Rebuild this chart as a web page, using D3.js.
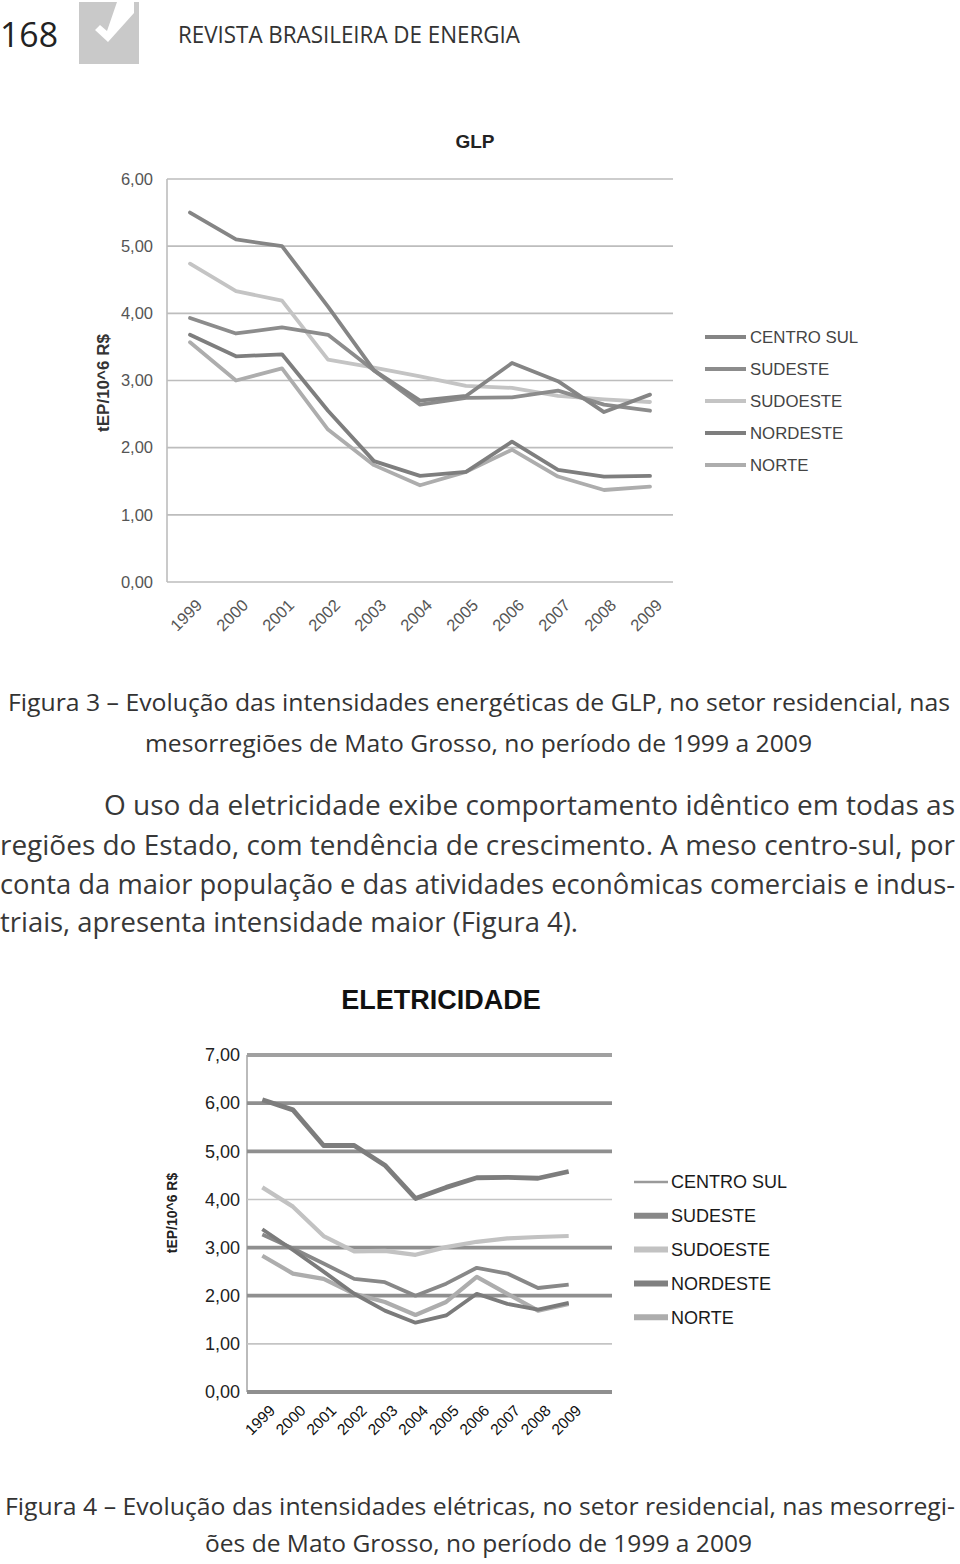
<!DOCTYPE html>
<html><head><meta charset="utf-8">
<script src="https://cdn.jsdelivr.net/npm/d3@7/dist/d3.min.js"></script>
<style>
html,body{margin:0;padding:0;background:#fff;}
svg{display:block;}
</style></head>
<body>
<script>
// ---------- DATA ----------
const years = ["1999","2000","2001","2002","2003","2004","2005","2006","2007","2008","2009"];
const regions = ["CENTRO SUL","SUDESTE","SUDOESTE","NORDESTE","NORTE"];

// GLP (tEP/10^6 R$)
const glpCentroSul = [5.50,5.10,5.00,4.10,3.15,2.70,2.77,3.26,2.99,2.53,2.79];
const glpSudeste   = [3.93,3.70,3.79,3.68,3.15,2.64,2.74,2.75,2.85,2.64,2.55];
const glpSudoeste  = [4.74,4.33,4.19,3.31,3.19,3.06,2.92,2.89,2.77,2.72,2.68];
const glpNordeste  = [3.68,3.36,3.39,2.55,1.80,1.58,1.64,2.09,1.67,1.57,1.58];
const glpNorte     = [3.57,3.00,3.18,2.27,1.74,1.44,1.64,1.97,1.57,1.37,1.42];
const glpTicks = [0,1,2,3,4,5,6];

// ELETRICIDADE (tEP/10^6 R$)
const eleCentroSul = [6.07,5.86,5.12,5.12,4.71,4.02,4.25,4.45,4.46,4.44,4.58];
const eleSudeste   = [3.27,2.98,2.67,2.35,2.28,2.00,2.25,2.58,2.46,2.16,2.23];
const eleSudoeste  = [4.25,3.85,3.24,2.92,2.93,2.85,3.01,3.12,3.19,3.22,3.24];
const eleNordeste  = [3.38,2.95,2.50,2.04,1.69,1.44,1.59,2.04,1.83,1.71,1.85];
const eleNorte     = [2.83,2.46,2.35,2.04,1.87,1.60,1.87,2.39,2.04,1.69,1.83];
const eleTicks = [0,1,2,3,4,5,6,7];

const yLabel = "tEP/10^6 R$";

// ---------- DRAW ----------
const W = 960, H = 1564;
const svg = d3.select("body").append("svg").attr("width", W).attr("height", H);
svg.append("rect").attr("width", W).attr("height", H).attr("fill", "#fff");

const bodyFont = "'Open Sans','Noto Sans',sans-serif";
const chartFont = "'Liberation Sans',Arial,sans-serif";
const fmt = v => d3.format(".2f")(v).replace(".", ",");

function fitText(x, y, str, size, len, color, anchor) {
  const t = svg.append("text").attr("x", x).attr("y", y)
    .attr("font-family", bodyFont).attr("font-size", size)
    .attr("fill", color || "#3a3a3a").text(str);
  if (anchor) t.attr("text-anchor", anchor);
  if (len) t.attr("textLength", len).attr("lengthAdjust", "spacingAndGlyphs");
  return t;
}

// Header
fitText(0, 47, "168", 34, 58, "#222");
svg.append("rect").attr("x", 79).attr("y", 2).attr("width", 60).attr("height", 62).attr("fill", "#c9c9c9");
svg.append("polygon").attr("points", "117,2 134,2 134,13 108,42 95,30 100,25 107,31").attr("fill", "#fff");
fitText(178, 43, "REVISTA BRASILEIRA DE ENERGIA", 23.5, 342, "#333");

// ---------- GLP chart ----------
{
  const x = d3.scaleBand().domain(years).range([167, 673]);
  const y = d3.scaleLinear().domain([0, 6]).range([582, 179]);
  const cx = d => x(d) + x.bandwidth() / 2;
  const g = svg.append("g");

  g.append("text").attr("x", 475).attr("y", 148).attr("text-anchor", "middle")
    .attr("font-family", chartFont).attr("font-weight", "bold").attr("font-size", 19)
    .attr("fill", "#222").text("GLP");

  g.selectAll(".grid").data(glpTicks).join("line")
    .attr("x1", 167).attr("x2", 673)
    .attr("y1", d => y(d)).attr("y2", d => y(d))
    .attr("stroke", "#bdbdbd").attr("stroke-width", 1.6);
  g.append("line").attr("x1", 167).attr("x2", 167).attr("y1", y(6)).attr("y2", y(0))
    .attr("stroke", "#bdbdbd").attr("stroke-width", 1.6);

  const yAxis = d3.axisLeft(y).tickValues(glpTicks).tickFormat(fmt).tickSize(0).tickPadding(14);
  const ya = g.append("g").attr("transform", "translate(167,0)").call(yAxis);
  ya.select(".domain").remove();
  ya.selectAll("text").attr("font-family", chartFont).attr("font-size", 16.5).attr("fill", "#555");

  g.selectAll(".xl").data(years).join("text")
    .attr("transform", d => `translate(${cx(d) + 5},${598}) rotate(-45)`)
    .attr("text-anchor", "end").attr("dy", "0.7em")
    .attr("font-family", chartFont).attr("font-size", 16.5).attr("fill", "#555").text(d => d);

  g.append("text").attr("transform", "translate(109,383) rotate(-90)")
    .attr("text-anchor", "middle").attr("font-family", chartFont).attr("font-weight", "bold")
    .attr("font-size", 17).attr("fill", "#333").text(yLabel);

  const series = [
    {name: regions[0], v: glpCentroSul, c: "#858585"},
    {name: regions[1], v: glpSudeste, c: "#8c8c8c"},
    {name: regions[2], v: glpSudoeste, c: "#c4c4c4"},
    {name: regions[3], v: glpNordeste, c: "#7e7e7e"},
    {name: regions[4], v: glpNorte, c: "#adadad"}
  ];
  const line = d3.line().x((d, i) => cx(years[i])).y(d => y(d));
  const drawOrder = [2, 4, 1, 3, 0];
  drawOrder.forEach(k => {
    g.append("path").attr("d", line(series[k].v)).attr("fill", "none")
      .attr("stroke", series[k].c).attr("stroke-width", 3.8)
      .attr("stroke-linejoin", "round").attr("stroke-linecap", "round");
  });

  const leg = g.append("g");
  series.forEach((s, i) => {
    const ly = 337 + i * 32;
    leg.append("line").attr("x1", 705).attr("x2", 746).attr("y1", ly).attr("y2", ly)
      .attr("stroke", s.c).attr("stroke-width", 3.8);
    leg.append("text").attr("x", 750).attr("y", ly).attr("dy", "0.36em")
      .attr("font-family", chartFont).attr("font-size", 16.8).attr("fill", "#444").text(s.name);
  });
}

// Caption Figura 3
fitText(8, 711, "Figura 3 – Evolução das intensidades energéticas de GLP, no setor residencial, nas", 24, 942, "#333");
fitText(145, 752, "mesorregiões de Mato Grosso, no período de 1999 a 2009", 24, 667, "#333");

// Paragraph
fitText(104, 815, "O uso da eletricidade exibe comportamento idêntico em todas as", 27, 851, "#383838");
fitText(0, 855, "regiões do Estado, com tendência de crescimento. A meso centro-sul, por", 27, 955, "#383838");
fitText(0, 894, "conta da maior população e das atividades econômicas comerciais e indus-", 27, 955, "#383838");
fitText(0, 932, "triais, apresenta intensidade maior (Figura 4).", 27, 578, "#383838");

// ---------- ELETRICIDADE chart ----------
{
  const x = d3.scaleBand().domain(years).range([247, 584]);
  const y = d3.scaleLinear().domain([0, 7]).range([1392, 1055]);
  const cx = d => x(d) + x.bandwidth() / 2;
  const g = svg.append("g");

  g.append("text").attr("x", 441).attr("y", 1009).attr("text-anchor", "middle")
    .attr("font-family", chartFont).attr("font-weight", "bold").attr("font-size", 27)
    .attr("fill", "#111").text("ELETRICIDADE");

  const heavy = new Set([0, 2, 3, 5, 6, 7]);
  g.append("line").attr("x1", 247).attr("x2", 247).attr("y1", y(7)).attr("y2", y(0))
    .attr("stroke", "#bbbbbb").attr("stroke-width", 2);
  g.selectAll(".grid").data(eleTicks).join("line")
    .attr("x1", 247).attr("x2", 612)
    .attr("y1", d => y(d)).attr("y2", d => y(d))
    .attr("stroke", d => heavy.has(d) ? (d === 7 ? "#a0a0a0" : "#8f8f8f") : "#c4c4c4")
    .attr("stroke-width", d => heavy.has(d) ? 3.8 : 1.6);

  const yAxis = d3.axisLeft(y).tickValues(eleTicks).tickFormat(fmt).tickSize(0).tickPadding(7);
  const ya = g.append("g").attr("transform", "translate(247,0)").call(yAxis);
  ya.select(".domain").remove();
  ya.selectAll("text").attr("font-family", chartFont).attr("font-size", 18).attr("fill", "#222");

  g.selectAll(".xl").data(years).join("text")
    .attr("transform", d => `translate(${cx(d) + 6},${1404}) rotate(-45)`)
    .attr("text-anchor", "end").attr("dy", "0.7em")
    .attr("font-family", chartFont).attr("font-size", 15.5).attr("fill", "#111").text(d => d);

  g.append("text").attr("transform", "translate(177,1213) rotate(-90)")
    .attr("text-anchor", "middle").attr("font-family", chartFont).attr("font-weight", "bold")
    .attr("font-size", 14).attr("fill", "#222").text(yLabel);

  const series = [
    {name: regions[0], v: eleCentroSul, c: "#7d7d7d", w: 4.8, lw: 2.5, lc: "#9a9a9a"},
    {name: regions[1], v: eleSudeste, c: "#888888", w: 3.8, lw: 6, lc: "#888888"},
    {name: regions[2], v: eleSudoeste, c: "#c2c2c2", w: 4.2, lw: 6, lc: "#c2c2c2"},
    {name: regions[3], v: eleNordeste, c: "#7b7b7b", w: 3.8, lw: 6, lc: "#808080"},
    {name: regions[4], v: eleNorte, c: "#adadad", w: 4.2, lw: 6, lc: "#adadad"}
  ];
  const line = d3.line().x((d, i) => cx(years[i])).y(d => y(d));
  [2, 4, 1, 3, 0].forEach(k => {
    g.append("path").attr("d", line(series[k].v)).attr("fill", "none")
      .attr("stroke", series[k].c).attr("stroke-width", series[k].w)
      .attr("stroke-linejoin", "round").attr("stroke-linecap", "butt");
  });

  series.forEach((s, i) => {
    const ly = 1182 + i * 33.8;
    g.append("line").attr("x1", 634).attr("x2", 668).attr("y1", ly).attr("y2", ly)
      .attr("stroke", s.lc).attr("stroke-width", s.lw);
    g.append("text").attr("x", 671).attr("y", ly).attr("dy", "0.36em")
      .attr("font-family", chartFont).attr("font-size", 18).attr("fill", "#1a1a1a").text(s.name);
  });
}

// Caption Figura 4
fitText(5, 1515, "Figura 4 – Evolução das intensidades elétricas, no setor residencial, nas mesorregi-", 24, 950, "#333");
fitText(205, 1552, "ões de Mato Grosso, no período de 1999 a 2009", 24, 547, "#333");
</script>
</body></html>
